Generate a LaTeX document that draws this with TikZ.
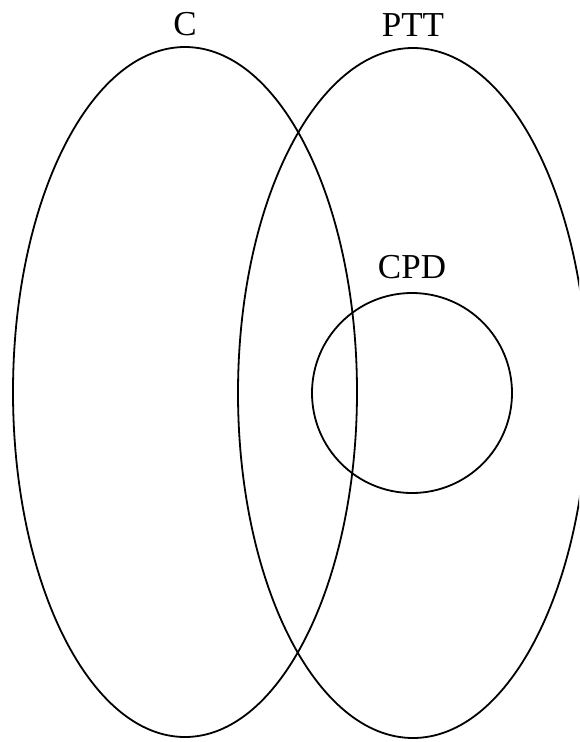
\documentclass[tikz,border=0pt]{standalone}
\usepackage{fontspec}
\setmainfont{Liberation Serif}
\usetikzlibrary{positioning, shapes.geometric}

\begin{document}
\begin{tikzpicture}[
    x=1pt, y=-1pt,
    set/.style={draw, ellipse, line width=1.8pt, inner sep=0pt, minimum width=344pt, minimum height=690pt},
    sub/.style={draw, circle, line width=1.8pt, inner sep=0pt, minimum size=200pt},
    lbl/.style={inner sep=0pt, font=\fontsize{35}{40}\selectfont}]
    \useasboundingbox (0,0) rectangle (579,742);
    \clip (0,0) rectangle (579,742);
    \node[set]                        (setC)   at (185,392) {};
    \node[set, minimum width=350pt]   (setPTT) at (413,393) {};
    \node[sub]                        (setCPD) at (412,393) {};
    \node[lbl, above=10pt of setC.north]    (labC)   {C};
    \node[lbl, above=10pt of setPTT.north]  (labPTT) {PTT};
    \node[lbl, above=13pt of setCPD.north]  (labCPD) {CPD};
  \end{tikzpicture}
\end{document}
